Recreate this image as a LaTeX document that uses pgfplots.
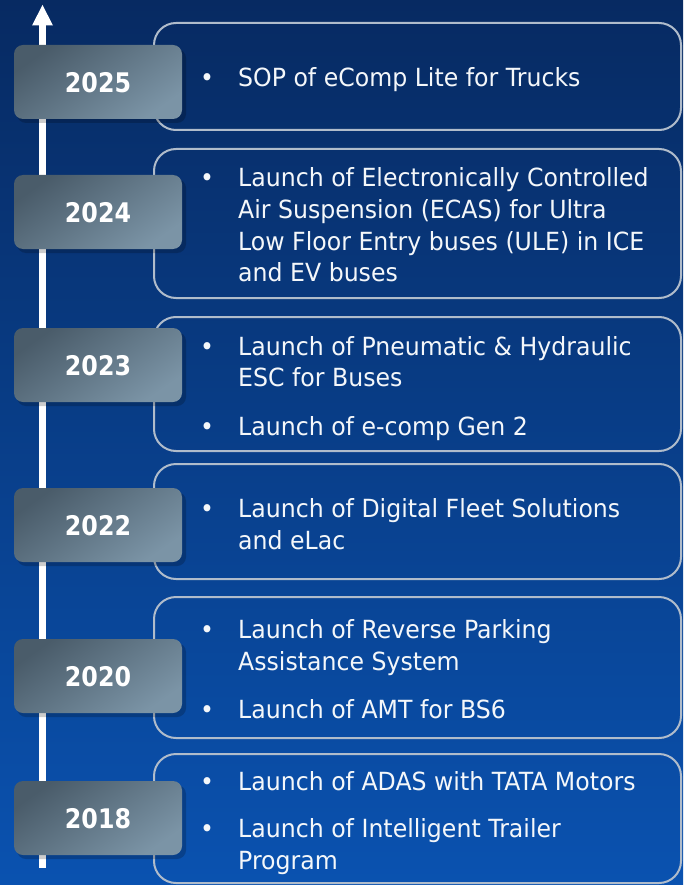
\documentclass[border=0pt]{standalone}
\usepackage{pgfplots}
\pgfplotsset{compat=1.18}
\usepackage{fontspec}
\setmainfont{DejaVu Sans}[FakeStretch=0.945]
\newfontfamily\yearfont{DejaVu Sans}[FakeStretch=0.88]
\definecolor{bgtop}{HTML}{072A62}
\definecolor{bgmid}{HTML}{0A3F8E}
\definecolor{bgbot}{HTML}{0A52B0}
\definecolor{yrA}{HTML}{4A5C6A}
\definecolor{yrB}{HTML}{7B94A6}
\definecolor{bord}{HTML}{B0BCCB}
\definecolor{txt}{HTML}{F4F7FA}
\tikzset{
  yrbox/.style={rounded corners=9pt, top color=yrA, bottom color=yrB, shading angle=35},
  shad/.style={black, opacity=0.2, rounded corners=9pt},
  yrtxt/.style={text=white, font=\yearfont\bfseries\fontsize{27}{30}\selectfont, anchor=center},
  bul/.style={text=txt, font=\fontsize{25}{30}\selectfont, anchor=base},
  ln/.style={text=txt, font=\fontsize{25}{30}\selectfont, anchor=base west, inner sep=0pt},
  cbox/.style={bord, line width=2pt, rounded corners=22pt}
}
\begin{document}
\begin{tikzpicture}
\begin{axis}[hide axis, scale only axis, width=683pt, height=885pt,
  xmin=0, xmax=683, ymin=0, ymax=885, y dir=reverse, clip=false]
% background
\shade[top color=bgtop, middle color=bgmid, bottom color=bgbot]
  (axis cs:0,0) rectangle (axis cs:683,885);
% timeline arrow
\addplot[white, line width=6.5pt] coordinates {(42.5,868) (42.5,22)};
\addplot[fill=white, draw=none] coordinates {(32,25.5) (42.5,5) (53,25.5) (32,25.5)};
% content boxes
\draw[cbox] (axis cs:154,23) rectangle (axis cs:681,130);
\draw[cbox] (axis cs:154,149) rectangle (axis cs:681,298);
\draw[cbox] (axis cs:154,317) rectangle (axis cs:681,451);
\draw[cbox] (axis cs:154,464) rectangle (axis cs:681,579);
\draw[cbox] (axis cs:154,597) rectangle (axis cs:681,738);
\draw[cbox] (axis cs:154,754) rectangle (axis cs:681,883);
% year boxes
\fill[shad] (axis cs:17,49) rectangle (axis cs:186,123);
\shade[yrbox] (axis cs:14,45) rectangle (axis cs:182,119);
\node[yrtxt] at (axis cs:98,83) {2025};
\fill[shad] (axis cs:17,179) rectangle (axis cs:186,253);
\shade[yrbox] (axis cs:14,175) rectangle (axis cs:182,249);
\node[yrtxt] at (axis cs:98,213) {2024};
\fill[shad] (axis cs:17,332) rectangle (axis cs:186,406);
\shade[yrbox] (axis cs:14,328) rectangle (axis cs:182,402);
\node[yrtxt] at (axis cs:98,366) {2023};
\fill[shad] (axis cs:17,492) rectangle (axis cs:186,566);
\shade[yrbox] (axis cs:14,488) rectangle (axis cs:182,562);
\node[yrtxt] at (axis cs:98,526) {2022};
\fill[shad] (axis cs:17,643) rectangle (axis cs:186,717);
\shade[yrbox] (axis cs:14,639) rectangle (axis cs:182,713);
\node[yrtxt] at (axis cs:98,677) {2020};
\fill[shad] (axis cs:17,785) rectangle (axis cs:186,859);
\shade[yrbox] (axis cs:14,781) rectangle (axis cs:182,855);
\node[yrtxt] at (axis cs:98,819) {2018};
% bullets
\node[bul] at (axis cs:207,87) {\textbullet};
\node[bul] at (axis cs:207,187) {\textbullet};
\node[bul] at (axis cs:207,355) {\textbullet};
\node[bul] at (axis cs:207,435) {\textbullet};
\node[bul] at (axis cs:207,517) {\textbullet};
\node[bul] at (axis cs:207,638) {\textbullet};
\node[bul] at (axis cs:207,718) {\textbullet};
\node[bul] at (axis cs:207,790) {\textbullet};
\node[bul] at (axis cs:207,837) {\textbullet};
% text lines
\node[ln] at (axis cs:238,87) {SOP of eComp Lite for Trucks};
\node[ln] at (axis cs:238,187) {Launch of Electronically Controlled};
\node[ln] at (axis cs:238,218.5) {Air Suspension (ECAS) for Ultra};
\node[ln] at (axis cs:238,250) {Low Floor Entry buses (ULE) in ICE};
\node[ln] at (axis cs:238,281.5) {and EV buses};
\node[ln] at (axis cs:238,355) {Launch of Pneumatic \& Hydraulic};
\node[ln] at (axis cs:238,386.7) {ESC for Buses};
\node[ln] at (axis cs:238,435) {Launch of e-comp Gen 2};
\node[ln] at (axis cs:238,517) {Launch of Digital Fleet Solutions};
\node[ln] at (axis cs:238,549) {and eLac};
\node[ln] at (axis cs:238,638) {Launch of Reverse Parking};
\node[ln] at (axis cs:238,670) {Assistance System};
\node[ln] at (axis cs:238,718) {Launch of AMT for BS6};
\node[ln] at (axis cs:238,790) {Launch of ADAS with TATA Motors};
\node[ln] at (axis cs:238,837) {Launch of Intelligent Trailer};
\node[ln] at (axis cs:238,869) {Program};
\end{axis}
\end{tikzpicture}
\end{document}
